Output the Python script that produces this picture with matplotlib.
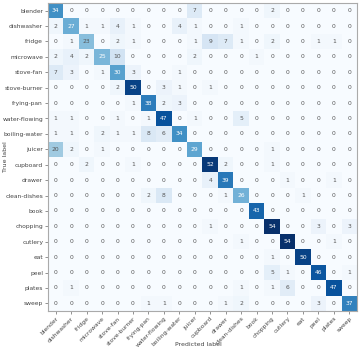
import numpy as np
import matplotlib
matplotlib.use("Agg")
import matplotlib.pyplot as plt

labels = ["blender", "dishwasher", "fridge", "microwave", "stove-fan", "stove-burner",
          "frying-pan", "water-flowing", "boiling-water", "juicer", "cupboard", "drawer",
          "clean-dishes", "book", "chopping", "cutlery", "eat", "peel", "plates", "sweep"]

row_blender       = [34, 0, 0, 0, 0, 0, 0, 0, 0, 7, 0, 0, 0, 0, 2, 0, 0, 0, 0, 0]
row_dishwasher    = [2, 27, 1, 1, 4, 1, 0, 0, 4, 1, 0, 0, 1, 0, 0, 0, 0, 0, 0, 0]
row_fridge        = [0, 1, 23, 0, 2, 1, 0, 0, 0, 1, 9, 7, 1, 0, 2, 0, 0, 1, 1, 0]
row_microwave     = [2, 4, 2, 25, 10, 0, 0, 0, 0, 2, 0, 0, 0, 1, 0, 0, 0, 0, 0, 0]
row_stove_fan     = [7, 3, 0, 1, 30, 3, 0, 0, 1, 0, 0, 0, 0, 0, 0, 0, 0, 0, 0, 0]
row_stove_burner  = [0, 0, 0, 0, 2, 50, 0, 3, 1, 0, 1, 0, 0, 0, 0, 0, 0, 0, 0, 0]
row_frying_pan    = [0, 0, 0, 0, 0, 1, 38, 2, 3, 0, 0, 0, 0, 0, 0, 0, 0, 0, 0, 0]
row_water_flowing = [1, 1, 0, 0, 1, 0, 1, 47, 0, 1, 0, 0, 5, 0, 0, 0, 0, 0, 0, 0]
row_boiling_water = [1, 1, 0, 2, 1, 1, 8, 6, 34, 0, 0, 0, 0, 0, 0, 0, 0, 0, 0, 0]
row_juicer        = [20, 2, 0, 1, 0, 0, 0, 0, 0, 29, 0, 0, 0, 0, 1, 0, 0, 0, 0, 0]
row_cupboard      = [0, 0, 2, 0, 0, 1, 0, 0, 0, 0, 52, 2, 0, 0, 1, 0, 0, 0, 0, 0]
row_drawer        = [0, 0, 0, 0, 0, 0, 0, 0, 0, 0, 4, 39, 0, 0, 0, 1, 0, 0, 1, 0]
row_clean_dishes  = [0, 0, 0, 0, 0, 0, 2, 8, 0, 0, 0, 1, 26, 0, 0, 0, 1, 0, 0, 0]
row_book          = [0, 0, 0, 0, 0, 0, 0, 0, 0, 0, 0, 0, 0, 43, 0, 0, 0, 0, 0, 0]
row_chopping      = [0, 0, 0, 0, 0, 0, 0, 0, 0, 0, 1, 0, 0, 0, 54, 0, 0, 3, 0, 3]
row_cutlery       = [0, 0, 0, 0, 0, 0, 0, 0, 0, 0, 0, 0, 1, 0, 0, 54, 0, 0, 1, 0]
row_eat           = [0, 0, 0, 0, 0, 0, 0, 0, 0, 0, 0, 0, 0, 0, 1, 0, 50, 0, 0, 0]
row_peel          = [0, 0, 0, 0, 0, 0, 0, 0, 0, 0, 0, 0, 0, 0, 5, 1, 0, 46, 0, 1]
row_plates        = [0, 1, 0, 0, 0, 0, 0, 0, 0, 0, 0, 0, 1, 0, 1, 6, 0, 0, 47, 0]
row_sweep         = [0, 0, 0, 0, 0, 0, 1, 1, 0, 0, 0, 1, 2, 0, 0, 0, 0, 3, 0, 37]

cm = np.array([row_blender, row_dishwasher, row_fridge, row_microwave, row_stove_fan,
               row_stove_burner, row_frying_pan, row_water_flowing, row_boiling_water,
               row_juicer, row_cupboard, row_drawer, row_clean_dishes, row_book,
               row_chopping, row_cutlery, row_eat, row_peel, row_plates, row_sweep])

fig = plt.figure(figsize=(3.59, 3.52), dpi=100)
ax = fig.add_axes([48 / 359, 1 - 311 / 352, 309 / 359, 308 / 352])
ax.imshow(cm, cmap="Blues", aspect="auto", interpolation="nearest", vmin=0, vmax=cm.max())

n = len(labels)
for i in range(n):
    for j in range(n):
        v = cm[i, j]
        ax.text(j, i, str(v), ha="center", va="center", fontsize=4.3,
                color="white" if v > 24 else "#555555")

ax.set_xticks(range(n))
ax.set_yticks(range(n))
ax.set_xticklabels(labels, rotation=45, ha="right", rotation_mode="anchor",
                   fontsize=4.3, color="#444444")
ax.set_yticklabels(labels, fontsize=4.3, color="#444444")
ax.tick_params(axis="both", length=2, width=0.5, color="#666666", pad=1.5)
for s in ax.spines.values():
    s.set_color("#aaaaaa")
    s.set_linewidth(0.8)

fig.text(198 / 359, 1 - 344 / 352, "Predicted label", fontsize=4.5, color="#444444",
         ha="center", va="center")
fig.text(6 / 359, 1 - 157 / 352, "True label", fontsize=4.5, color="#444444",
         ha="center", va="center", rotation=90)

fig.savefig("out.png", dpi=100)
